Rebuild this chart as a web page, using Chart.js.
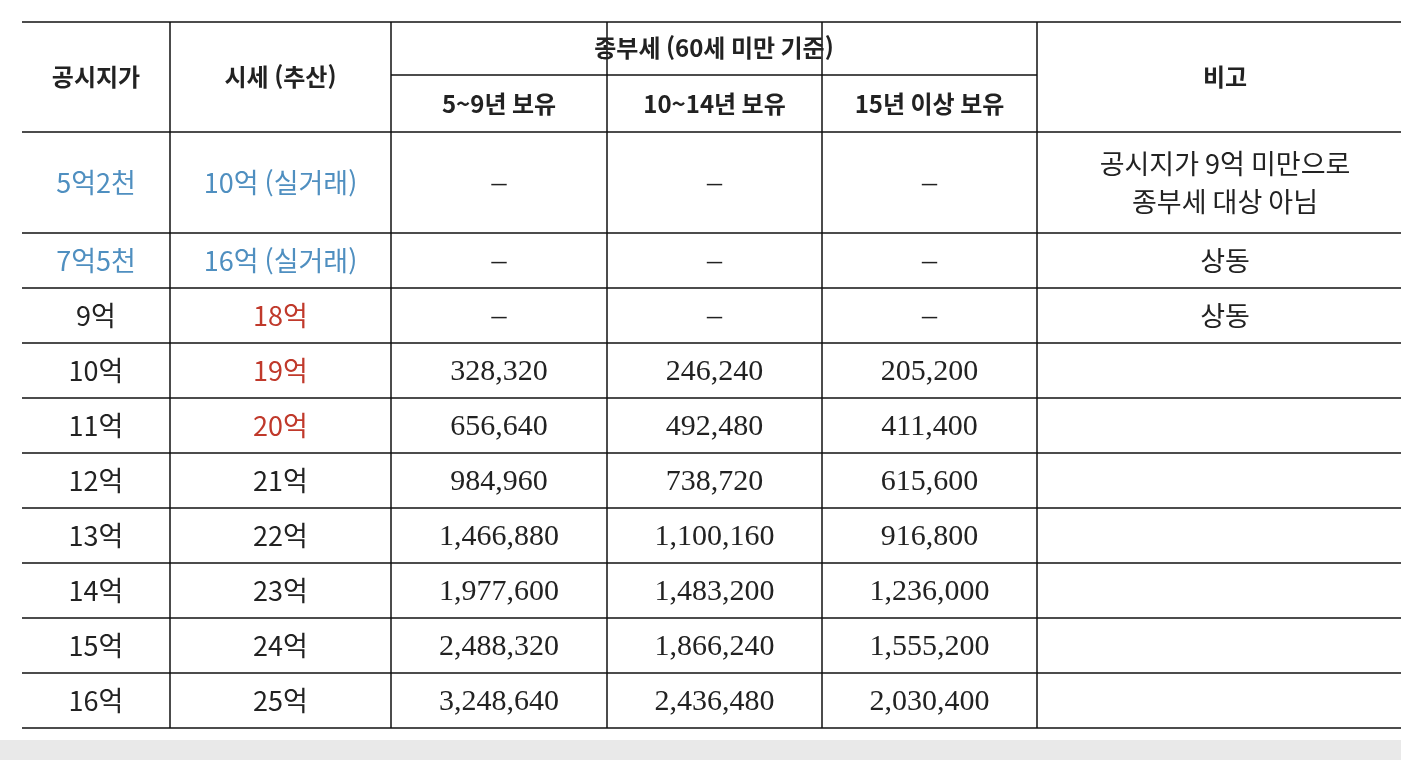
<!DOCTYPE html>
<html lang="ko">
<head>
<meta charset="UTF-8">
<title>종부세 표</title>
<script src="https://cdn.jsdelivr.net/npm/chart.js"></script>
<style>
  body { margin: 0; background: #fff; overflow: hidden; }
  canvas { display: block; }
</style>
</head>
<body>
<canvas id="tbl" width="1401" height="760"></canvas>
<script>
const headers = ['공시지가', '시세 (추산)', '종부세 (60세 미만 기준)', '비고'];
const subHeaders = ['5~9년 보유', '10~14년 보유', '15년 이상 보유'];
const gongsi = ['5억2천', '7억5천', '9억', '10억', '11억', '12억', '13억', '14억', '15억', '16억'];
const sise = ['10억 (실거래)', '16억 (실거래)', '18억', '19억', '20억', '21억', '22억', '23억', '24억', '25억'];
const tax5to9 = [null, null, null, 328320, 656640, 984960, 1466880, 1977600, 2488320, 3248640];
const tax10to14 = [null, null, null, 246240, 492480, 738720, 1100160, 1483200, 1866240, 2436480];
const tax15plus = [null, null, null, 205200, 411400, 615600, 916800, 1236000, 1555200, 2030400];
const notes = ['공시지가 9억 미만으로\n종부세 대상 아님', '상동', '상동', '', '', '', '', '', '', ''];

// layout (table geometry, in scale units = pixels)
const colEdges = [22, 170, 391, 607, 822, 1037, 1401];
const rowEdges = [132, 233, 288, 343, 398, 453, 508, 563, 618, 673, 728];
const headTop = 22, headMid = 75;
const blue = '#4f8fc0', red = '#c0392b', ink = '#222';

const fmt = v => v == null ? '–' : v.toLocaleString('en-US');

const tablePlugin = {
  id: 'table',
  afterDraw(chart) {
    const c = chart.ctx, xs = chart.scales.x, ys = chart.scales.y;
    const X = v => xs.getPixelForValue(v), Y = v => ys.getPixelForValue(v);
    c.save();
    c.fillStyle = '#e9e9e9';
    c.fillRect(0, Y(740), chart.width, chart.height - Y(740));

    c.strokeStyle = '#111';
    c.lineWidth = 1.5;
    const hline = (y, x0, x1) => { c.beginPath(); c.moveTo(X(x0), Y(y)); c.lineTo(X(x1), Y(y)); c.stroke(); };
    const vline = (x, y0, y1) => { c.beginPath(); c.moveTo(X(x), Y(y0)); c.lineTo(X(x), Y(y1)); c.stroke(); };
    hline(headTop, colEdges[0], colEdges[6]);
    hline(headMid, colEdges[2], colEdges[5]);
    rowEdges.forEach(y => hline(y, colEdges[0], colEdges[6]));
    colEdges.slice(1, 6).forEach(x => vline(x, headTop, rowEdges[rowEdges.length - 1]));

    c.textAlign = 'center';
    c.textBaseline = 'middle';
    const mid = (a, b) => (a + b) / 2;
    const text = (s, x, y, font, color) => { c.font = font; c.fillStyle = color; c.fillText(s, X(x), Y(y)); };
    const hf = 'bold 24px "Noto Sans CJK KR"';
    const noteX = mid(colEdges[5], colEdges[6]) + 6;
    text(headers[0], mid(colEdges[0], colEdges[1]), 77, hf, ink);
    text(headers[1], mid(colEdges[1], colEdges[2]), 77, hf, ink);
    text(headers[2], mid(colEdges[2], colEdges[5]), 48, hf, ink);
    text(headers[3], noteX, 77, hf, ink);
    subHeaders.forEach((s, i) => text(s, mid(colEdges[2 + i], colEdges[3 + i]), 104, hf, ink));

    const bf = '30px "Liberation Serif", "Noto Sans CJK KR"';
    const kf = '27px "Noto Sans CJK KR"';
    gongsi.forEach((g, r) => {
      const y = mid(rowEdges[r], rowEdges[r + 1]);
      const isBlue = r < 2;
      text(g, mid(colEdges[0], colEdges[1]), y, kf, isBlue ? blue : ink);
      text(sise[r], mid(colEdges[1], colEdges[2]), y, kf, isBlue ? blue : (r < 5 ? red : ink));
      [tax5to9, tax10to14, tax15plus].forEach((arr, i) =>
        text(fmt(arr[r]), mid(colEdges[2 + i], colEdges[3 + i]), y + 2, bf, ink));
      const lines = notes[r].split('\n');
      lines.forEach((l, k) =>
        text(l, noteX, y + (k - (lines.length - 1) / 2) * 38, kf, ink));
    });
    c.restore();
  }
};

new Chart(document.getElementById('tbl'), {
  type: 'scatter',
  data: { datasets: [{ data: [] }] },
  options: {
    responsive: false,
    animation: false,
    devicePixelRatio: 1,
    layout: { padding: 0 },
    plugins: { legend: { display: false }, tooltip: { enabled: false } },
    scales: {
      x: { type: 'linear', min: 0, max: 1401, display: false },
      y: { type: 'linear', min: 0, max: 760, reverse: true, display: false }
    }
  },
  plugins: [tablePlugin]
});
</script>
</body>
</html>
